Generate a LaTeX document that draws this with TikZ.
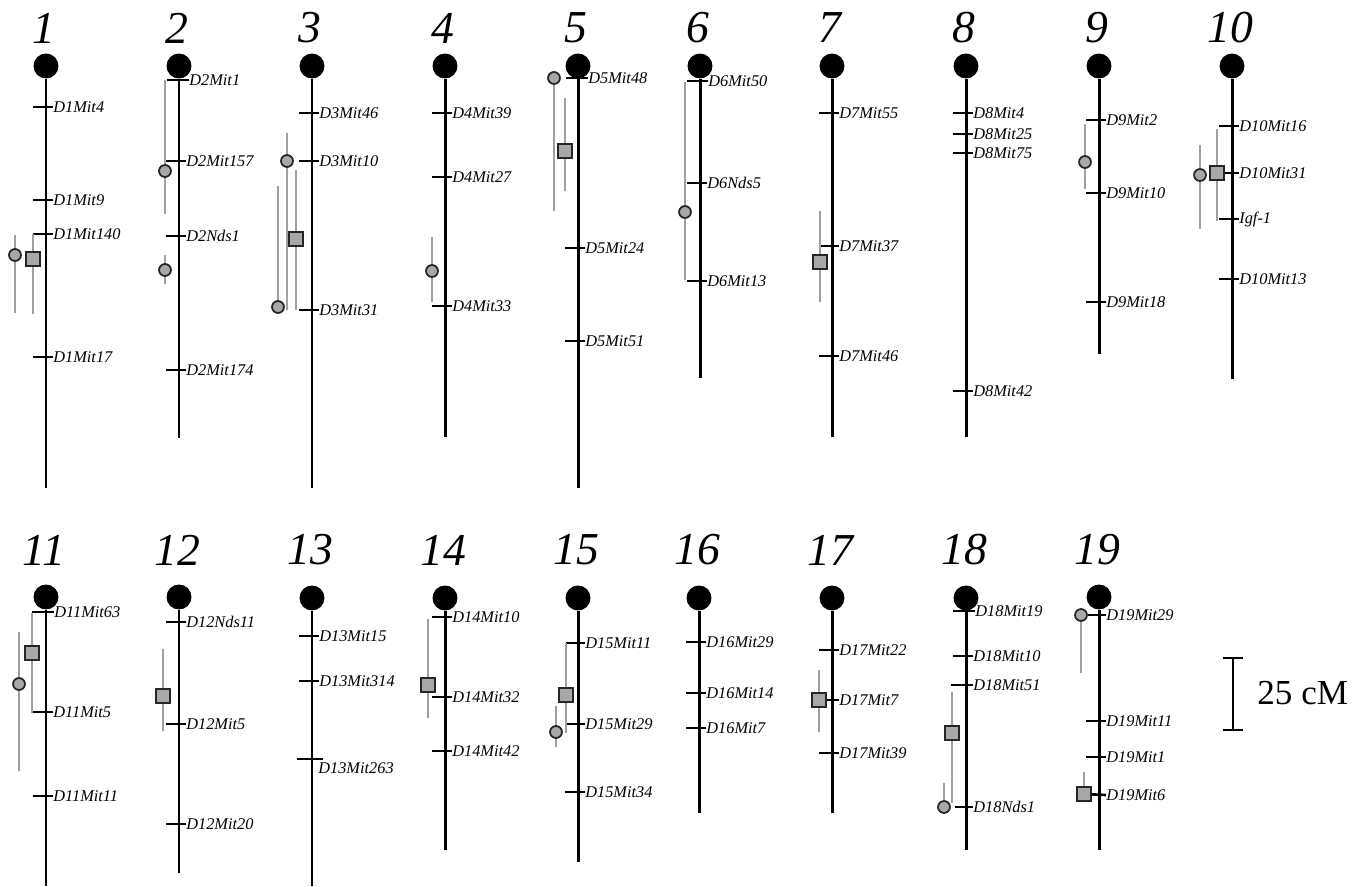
\documentclass[tikz,border=0pt]{standalone}
\usepackage{fontspec}
\setmainfont{Liberation Serif}
\usepackage{tikz}
\definecolor{qtlgray}{HTML}{A8A8A8}
\definecolor{cigray}{HTML}{A0A0A0}

\begin{document}
\begin{tikzpicture}[x=0.02cm, y=-0.02cm,
  cen/.style={circle, fill=black, minimum size=14.2pt, inner sep=0pt},
  chr/.style={line width=1.7pt},
  tk/.style={line width=1.5pt},
  mk/.style={anchor=west, inner sep=0pt, font=\itshape\fontsize{9.3}{10}\selectfont},
  num/.style={font=\itshape\fontsize{26}{26}\selectfont},
  ci/.style={draw=cigray, line width=0.75pt},
  qc/.style={circle, draw=black!85, fill=qtlgray, line width=1pt, minimum size=6.8pt, inner sep=0pt},
  qs/.style={rectangle, draw=black!85, fill=qtlgray, line width=1pt, minimum size=7.8pt, inner sep=0pt}]
\useasboundingbox (0,0) rectangle (1364,886);
% top row
\node[num] (n1) at (44,28) {1};
\node[cen] (c1) at (46,66) {}; \coordinate (e1) at (46,488); \draw[chr] (c1) -- (e1);
\node[mk] (m1a) at (53,107) {D1Mit4}; \draw[tk] (m1a.west) -- ++(-20,0);
\node[mk] (m1b) at (53,200) {D1Mit9}; \draw[tk] (m1b.west) -- ++(-20,0);
\node[mk] (m1c) at (53,234) {D1Mit140}; \draw[tk] (m1c.west) -- ++(-20,0);
\node[mk] (m1d) at (53,357) {D1Mit17}; \draw[tk] (m1d.west) -- ++(-20,0);
\coordinate (t1a) at (15,235); \coordinate (b1a) at (15,313); \draw[ci] (t1a) -- (b1a);
\coordinate (t1b) at (33,234); \coordinate (b1b) at (33,314); \draw[ci] (t1b) -- (b1b);
\node[qc] (q1a) at (15,255) {}; \node[qs] (q1b) at (33,259) {};

\node[num] (n2) at (177,28) {2};
\node[cen] (c2) at (179,66) {}; \coordinate (e2) at (179,438); \draw[chr] (c2) -- (e2);
\node[mk] (m2a) at (189,80) {D2Mit1}; \draw[tk] (m2a.west) -- ++(-22,0);
\node[mk] (m2b) at (186,161) {D2Mit157}; \draw[tk] (m2b.west) -- ++(-20,0);
\node[mk] (m2c) at (186,236) {D2Nds1}; \draw[tk] (m2c.west) -- ++(-20,0);
\node[mk] (m2d) at (186,370) {D2Mit174}; \draw[tk] (m2d.west) -- ++(-20,0);
\coordinate (t2a) at (165,80); \coordinate (b2a) at (165,214); \draw[ci] (t2a) -- (b2a);
\coordinate (t2b) at (165,255); \coordinate (b2b) at (165,284); \draw[ci] (t2b) -- (b2b);
\node[qc] (q2a) at (165,171) {}; \node[qc] (q2b) at (165,270) {};

\node[num] (n3) at (310,28) {3};
\node[cen] (c3) at (312,66) {}; \coordinate (e3) at (312,488); \draw[chr] (c3) -- (e3);
\node[mk] (m3a) at (319,113) {D3Mit46}; \draw[tk] (m3a.west) -- ++(-20,0);
\node[mk] (m3b) at (319,161) {D3Mit10}; \draw[tk] (m3b.west) -- ++(-20,0);
\node[mk] (m3c) at (319,310) {D3Mit31}; \draw[tk] (m3c.west) -- ++(-20,0);
\coordinate (t3a) at (287,133); \coordinate (b3a) at (287,310); \draw[ci] (t3a) -- (b3a);
\coordinate (t3b) at (296,170); \coordinate (b3b) at (296,310); \draw[ci] (t3b) -- (b3b);
\coordinate (t3c) at (278,186); \coordinate (b3c) at (278,307); \draw[ci] (t3c) -- (b3c);
\node[qc] (q3a) at (287,161) {}; \node[qs] (q3b) at (296,239) {}; \node[qc] (q3c) at (278,307) {};

\node[num] (n4) at (443,28) {4};
\node[cen] (c4) at (445,66) {}; \coordinate (e4) at (445,437); \draw[chr] (c4) -- (e4);
\node[mk] (m4a) at (452,113) {D4Mit39}; \draw[tk] (m4a.west) -- ++(-20,0);
\node[mk] (m4b) at (452,177) {D4Mit27}; \draw[tk] (m4b.west) -- ++(-20,0);
\node[mk] (m4c) at (452,306) {D4Mit33}; \draw[tk] (m4c.west) -- ++(-20,0);
\coordinate (t4a) at (432,237); \coordinate (b4a) at (432,302); \draw[ci] (t4a) -- (b4a);
\node[qc] (q4a) at (432,271) {};

\node[num] (n5) at (576,28) {5};
\node[cen] (c5) at (578,66) {}; \coordinate (e5) at (578,488); \draw[chr] (c5) -- (e5);
\node[mk] (m5a) at (588,78) {D5Mit48}; \draw[tk] (m5a.west) -- ++(-22,0);
\node[mk] (m5b) at (585,248) {D5Mit24}; \draw[tk] (m5b.west) -- ++(-20,0);
\node[mk] (m5c) at (585,341) {D5Mit51}; \draw[tk] (m5c.west) -- ++(-20,0);
\coordinate (t5a) at (554,78); \coordinate (b5a) at (554,211); \draw[ci] (t5a) -- (b5a);
\coordinate (t5b) at (565,98); \coordinate (b5b) at (565,191); \draw[ci] (t5b) -- (b5b);
\node[qc] (q5a) at (554,78) {}; \node[qs] (q5b) at (565,151) {};

\node[num] (n6) at (698,28) {6};
\node[cen] (c6) at (700,66) {}; \coordinate (e6) at (700,378); \draw[chr] (c6) -- (e6);
\node[mk] (m6a) at (708,81) {D6Mit50}; \draw[tk] (m6a.west) -- ++(-21,0);
\node[mk] (m6b) at (707,183) {D6Nds5}; \draw[tk] (m6b.west) -- ++(-20,0);
\node[mk] (m6c) at (707,281) {D6Mit13}; \draw[tk] (m6c.west) -- ++(-20,0);
\coordinate (t6a) at (685,82); \coordinate (b6a) at (685,280); \draw[ci] (t6a) -- (b6a);
\node[qc] (q6a) at (685,212) {};

\node[num] (n7) at (830,28) {7};
\node[cen] (c7) at (832,66) {}; \coordinate (e7) at (832,437); \draw[chr] (c7) -- (e7);
\node[mk] (m7a) at (839,113) {D7Mit55}; \draw[tk] (m7a.west) -- ++(-20,0);
\node[mk] (m7b) at (839,246) {D7Mit37}; \draw[tk] (m7b.west) -- ++(-20,0);
\node[mk] (m7c) at (839,356) {D7Mit46}; \draw[tk] (m7c.west) -- ++(-20,0);
\coordinate (t7a) at (820,211); \coordinate (b7a) at (820,302); \draw[ci] (t7a) -- (b7a);
\node[qs] (q7a) at (820,262) {};

\node[num] (n8) at (964,28) {8};
\node[cen] (c8) at (966,66) {}; \coordinate (e8) at (966,437); \draw[chr] (c8) -- (e8);
\node[mk] (m8a) at (973,113) {D8Mit4}; \draw[tk] (m8a.west) -- ++(-20,0);
\node[mk] (m8b) at (973,134) {D8Mit25}; \draw[tk] (m8b.west) -- ++(-20,0);
\node[mk] (m8c) at (973,153) {D8Mit75}; \draw[tk] (m8c.west) -- ++(-20,0);
\node[mk] (m8d) at (973,391) {D8Mit42}; \draw[tk] (m8d.west) -- ++(-20,0);

\node[num] (n9) at (1097,28) {9};
\node[cen] (c9) at (1099,66) {}; \coordinate (e9) at (1099,354); \draw[chr] (c9) -- (e9);
\node[mk] (m9a) at (1106,120) {D9Mit2}; \draw[tk] (m9a.west) -- ++(-20,0);
\node[mk] (m9b) at (1106,193) {D9Mit10}; \draw[tk] (m9b.west) -- ++(-20,0);
\node[mk] (m9c) at (1106,302) {D9Mit18}; \draw[tk] (m9c.west) -- ++(-20,0);
\coordinate (t9a) at (1085,124); \coordinate (b9a) at (1085,189); \draw[ci] (t9a) -- (b9a);
\node[qc] (q9a) at (1085,162) {};

\node[num] (n10) at (1230,28) {10};
\node[cen] (c10) at (1232,66) {}; \coordinate (e10) at (1232,379); \draw[chr] (c10) -- (e10);
\node[mk] (m10a) at (1239,126) {D10Mit16}; \draw[tk] (m10a.west) -- ++(-20,0);
\node[mk] (m10c) at (1239,219) {Igf-1}; \draw[tk] (m10c.west) -- ++(-20,0);
\node[mk] (m10d) at (1239,279) {D10Mit13}; \draw[tk] (m10d.west) -- ++(-20,0);
\coordinate (t10a) at (1200,145); \coordinate (b10a) at (1200,229); \draw[ci] (t10a) -- (b10a);
\coordinate (t10b) at (1217,129); \coordinate (b10b) at (1217,221); \draw[ci] (t10b) -- (b10b);
\node[qc] (q10a) at (1200,175) {}; \node[qs] (q10b) at (1217,173) {};
\node[mk] (m10b) at (1239,173) {D10Mit31}; \draw[tk] (m10b.west) -- (q10b);

% bottom row
\node[num] (n11) at (44,550) {11};
\node[cen] (c11) at (46,597) {}; \coordinate (e11) at (46,886); \draw[chr] (c11) -- (e11);
\node[mk] (m11a) at (54,612) {D11Mit63}; \draw[tk] (m11a.west) -- ++(-22,0);
\node[mk] (m11b) at (53,712) {D11Mit5}; \draw[tk] (m11b.west) -- ++(-20,0);
\node[mk] (m11c) at (53,796) {D11Mit11}; \draw[tk] (m11c.west) -- ++(-20,0);
\coordinate (t11a) at (32,613); \coordinate (b11a) at (32,713); \draw[ci] (t11a) -- (b11a);
\coordinate (t11b) at (19,632); \coordinate (b11b) at (19,771); \draw[ci] (t11b) -- (b11b);
\node[qs] (q11a) at (32,653) {}; \node[qc] (q11b) at (19,684) {};

\node[num] (n12) at (177,550) {12};
\node[cen] (c12) at (179,597) {}; \coordinate (e12) at (179,873); \draw[chr] (c12) -- (e12);
\node[mk] (m12a) at (186,622) {D12Nds11}; \draw[tk] (m12a.west) -- ++(-20,0);
\node[mk] (m12b) at (186,724) {D12Mit5}; \draw[tk] (m12b.west) -- ++(-20,0);
\node[mk] (m12c) at (186,824) {D12Mit20}; \draw[tk] (m12c.west) -- ++(-20,0);
\coordinate (t12a) at (163,649); \coordinate (b12a) at (163,731); \draw[ci] (t12a) -- (b12a);
\node[qs] (q12a) at (163,696) {};

\node[num] (n13) at (310,550) {13};
\node[cen] (c13) at (312,598) {}; \coordinate (e13) at (312,886); \draw[chr] (c13) -- (e13);
\node[mk] (m13a) at (319,636) {D13Mit15}; \draw[tk] (m13a.west) -- ++(-20,0);
\node[mk] (m13b) at (319,681) {D13Mit314}; \draw[tk] (m13b.west) -- ++(-20,0);
\node[mk, anchor=north west] (m13c) at (318,762) {D13Mit263}; \draw[tk] (m13c.north west) ++(5,-3) -- ++(-26,0);

\node[num] (n14) at (443,550) {14};
\node[cen] (c14) at (445,598) {}; \coordinate (e14) at (445,850); \draw[chr] (c14) -- (e14);
\node[mk] (m14a) at (452,617) {D14Mit10}; \draw[tk] (m14a.west) -- ++(-20,0);
\node[mk] (m14b) at (452,697) {D14Mit32}; \draw[tk] (m14b.west) -- ++(-20,0);
\node[mk] (m14c) at (452,751) {D14Mit42}; \draw[tk] (m14c.west) -- ++(-20,0);
\coordinate (t14a) at (428,619); \coordinate (b14a) at (428,718); \draw[ci] (t14a) -- (b14a);
\node[qs] (q14a) at (428,685) {};

\node[num] (n15) at (576,550) {15};
\node[cen] (c15) at (578,598) {}; \coordinate (e15) at (578,862); \draw[chr] (c15) -- (e15);
\node[mk] (m15a) at (585,643) {D15Mit11}; \draw[tk] (m15a.west) -- (566,643);
\node[mk] (m15b) at (585,724) {D15Mit29}; \draw[tk] (m15b.west) -- ++(-20,0);
\node[mk] (m15c) at (585,792) {D15Mit34}; \draw[tk] (m15c.west) -- ++(-20,0);
\coordinate (t15a) at (566,643); \coordinate (b15a) at (566,733); \draw[ci] (t15a) -- (b15a);
\coordinate (t15b) at (556,706); \coordinate (b15b) at (556,747); \draw[ci] (t15b) -- (b15b);
\node[qs] (q15a) at (566,695) {}; \node[qc] (q15b) at (556,732) {};

\node[num] (n16) at (697,550) {16};
\node[cen] (c16) at (699,598) {}; \coordinate (e16) at (699,813); \draw[chr] (c16) -- (e16);
\node[mk] (m16a) at (706,642) {D16Mit29}; \draw[tk] (m16a.west) -- ++(-20,0);
\node[mk] (m16b) at (706,693) {D16Mit14}; \draw[tk] (m16b.west) -- ++(-20,0);
\node[mk] (m16c) at (706,728) {D16Mit7}; \draw[tk] (m16c.west) -- ++(-20,0);

\node[num] (n17) at (830,550) {17};
\node[cen] (c17) at (832,598) {}; \coordinate (e17) at (832,813); \draw[chr] (c17) -- (e17);
\node[mk] (m17a) at (839,650) {D17Mit22}; \draw[tk] (m17a.west) -- ++(-20,0);
\node[mk] (m17c) at (839,753) {D17Mit39}; \draw[tk] (m17c.west) -- ++(-20,0);
\coordinate (t17a) at (819,670); \coordinate (b17a) at (819,732); \draw[ci] (t17a) -- (b17a);
\node[qs] (q17a) at (819,700) {};
\node[mk] (m17b) at (839,700) {D17Mit7}; \draw[tk] (m17b.west) -- (q17a);

\node[num] (n18) at (964,550) {18};
\node[cen] (c18) at (966,598) {}; \coordinate (e18) at (966,850); \draw[chr] (c18) -- (e18);
\node[mk] (m18a) at (975,611) {D18Mit19}; \draw[tk] (m18a.west) -- ++(-22,0);
\node[mk] (m18b) at (973,656) {D18Mit10}; \draw[tk] (m18b.west) -- ++(-20,0);
\node[mk] (m18c) at (973,685) {D18Mit51}; \draw[tk] (m18c.west) -- ++(-22,0);
\coordinate (t18a) at (952,692); \coordinate (b18a) at (952,803); \draw[ci] (t18a) -- (b18a);
\coordinate (t18b) at (944,783); \coordinate (b18b) at (944,807); \draw[ci] (t18b) -- (b18b);
\node[qs] (q18a) at (952,733) {}; \node[qc] (q18b) at (944,807) {};
\node[mk] (m18d) at (973,807) {D18Nds1}; \draw[tk] (m18d.west) -- ++(-18,0);

\node[num] (n19) at (1097,550) {19};
\node[cen] (c19) at (1099,597) {}; \coordinate (e19) at (1099,850); \draw[chr] (c19) -- (e19);
\node[mk] (m19b) at (1106,721) {D19Mit11}; \draw[tk] (m19b.west) -- ++(-20,0);
\node[mk] (m19c) at (1106,757) {D19Mit1}; \draw[tk] (m19c.west) -- ++(-20,0);
\coordinate (t19a) at (1081,615); \coordinate (b19a) at (1081,673); \draw[ci] (t19a) -- (b19a);
\coordinate (t19b) at (1084,772); \coordinate (b19b) at (1084,794); \draw[ci] (t19b) -- (b19b);
\node[qc] (q19a) at (1081,615) {}; \node[qs] (q19b) at (1084,794) {};
\node[mk] (m19a) at (1106,615) {D19Mit29}; \draw[tk] (m19a.west) -- (q19a);
\node[mk] (m19d) at (1106,795) {D19Mit6}; \draw[tk] (m19d.west) -- (q19b);

% scale bar
\coordinate (s1) at (1233,658); \coordinate (s2) at (1233,730);
\draw[line width=1.4pt] (s1) -- (s2) (1223,658) -- (1243,658) (1223,730) -- (1243,730);
\node[anchor=west, inner sep=0pt, font=\fontsize{20}{20}\selectfont] (sc) at (1257,693) {25 cM};
\end{tikzpicture}
\end{document}
